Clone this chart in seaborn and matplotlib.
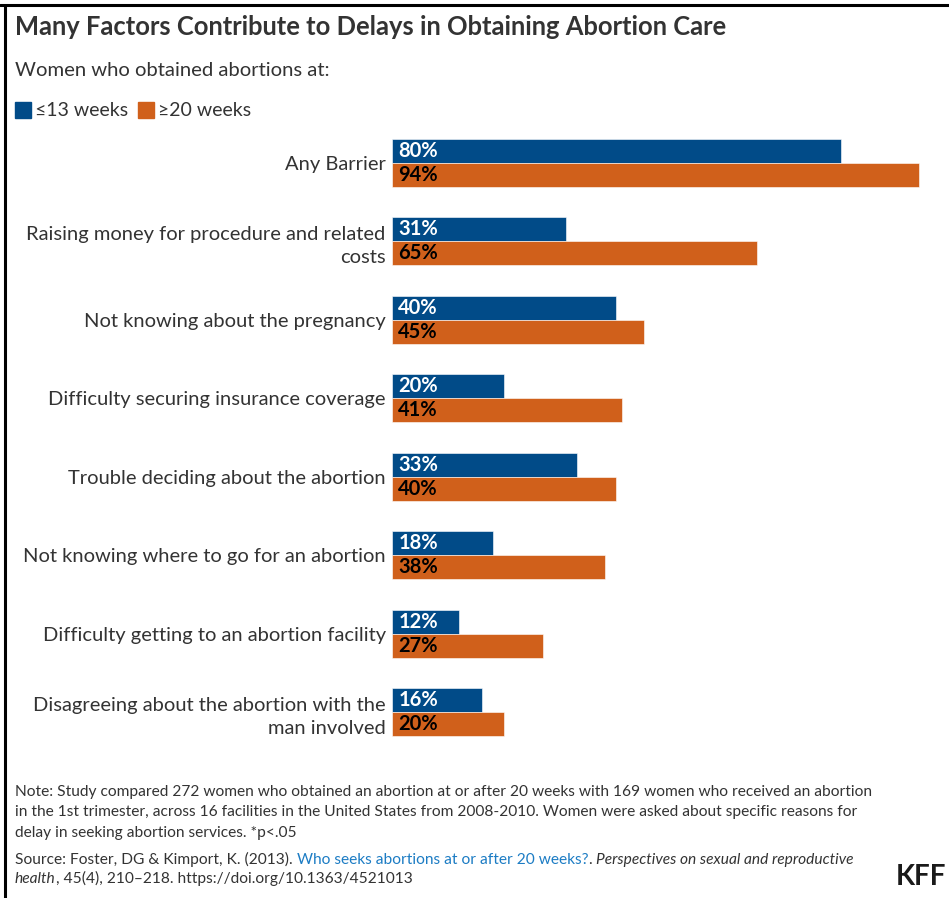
import numpy as np
import pandas as pd
import matplotlib
matplotlib.use("Agg")
import matplotlib.pyplot as plt
from matplotlib.lines import Line2D
from matplotlib.patches import Rectangle
import seaborn as sns

# data
factors = [
    "Any Barrier",
    "Raising money for procedure and related\ncosts",
    "Not knowing about the pregnancy",
    "Difficulty securing insurance coverage",
    "Trouble deciding about the abortion",
    "Not knowing where to go for an abortion",
    "Difficulty getting to an abortion facility",
    "Disagreeing about the abortion with the\nman involved",
]
early_pct = [80, 31, 40, 20, 33, 18, 12, 16]   # <=13 weeks
late_pct = [94, 65, 45, 41, 40, 38, 27, 20]    # >=20 weeks
groups = ["≤13 weeks", "≥20 weeks"]

BLUE = "#014b88"
ORANGE = "#d0601b"
TEXT = "#333333"
FS_NOTE = 11.2

df = pd.DataFrame({
    "factor": factors * 2,
    "pct": early_pct + late_pct,
    "group": [groups[0]] * len(factors) + [groups[1]] * len(factors),
})

sns.set_theme(style="white")
plt.rcParams["font.family"] = ["Lato", "DejaVu Sans"]

W, H = 949, 898
fig = plt.figure(figsize=(W / 100, H / 100), dpi=100)

def fx(px):
    return px / W

def fy(py):
    return 1 - py / H

ax = fig.add_axes([fx(392), fy(745), 1 - fx(392), fy(130) - fy(745)])
sns.barplot(data=df, y="factor", x="pct", hue="group", orient="h",
            palette=[BLUE, ORANGE], saturation=1, width=0.612,
            edgecolor="white", linewidth=0.4, legend=False, ax=ax)

ax.set_xlim(0, 99.3)
ax.set_ylim(7.42, -0.42)
ax.set_xlabel("")
ax.set_ylabel("")
ax.set_xticks([])
ax.tick_params(axis="y", length=0, pad=4.5, labelsize=14.5, labelcolor=TEXT)
for lbl in ax.get_yticklabels():
    lbl.set_linespacing(1.45)
for s in ax.spines.values():
    s.set_visible(False)

# value labels at the start of each bar
for cont, col in zip(ax.containers, ["white", "black"]):
    for patch in cont:
        val = patch.get_width()
        ax.annotate(f"{val:.0f}%", xy=(patch.get_x(), patch.get_y() + patch.get_height() / 2),
                    xytext=(4.5, 0), textcoords="offset points", va="center", ha="left",
                    fontsize=14.5, fontweight="bold", color=col)

# title, subtitle, legend
fig.text(fx(15), fy(27), "Many Factors Contribute to Delays in Obtaining Abortion Care",
         fontsize=18.4, fontweight="bold", color=TEXT, va="center")
fig.text(fx(15), fy(70), "Women who obtained abortions at:", fontsize=14.6, color=TEXT, va="center")
for x0, label, col in [(15, groups[0], BLUE), (138, groups[1], ORANGE)]:
    fig.patches.append(Rectangle((fx(x0), fy(118)), fx(16), fy(102) - fy(118),
                                 transform=fig.transFigure, color=col))
    fig.text(fx(x0 + 20), fy(110), label, fontsize=14, color=TEXT, va="center")

# notes
note = ("Note: Study compared 272 women who obtained an abortion at or after 20 weeks with 169 women who received an abortion\n"
        "in the 1st trimester, across 16 facilities in the United States from 2008-2010. Women were asked about specific reasons for\n"
        "delay in seeking abortion services. *p<.05")
fig.text(fx(15), fy(785), note, fontsize=FS_NOTE, color=TEXT, va="top", linespacing=1.58)

src1 = fig.text(fx(15), fy(859), "Source: Foster, DG & Kimport, K. (2013).", fontsize=FS_NOTE,
                color=TEXT, va="center")
a2 = ax.annotate("Who seeks abortions at or after 20 weeks?", xy=(1, 0), xycoords=src1,
                 xytext=(3, 0), textcoords="offset points", va="bottom", ha="left",
                 fontsize=FS_NOTE, color="#1c7cc4", annotation_clip=False)
a3 = ax.annotate(".", xy=(1, 0), xycoords=a2, va="bottom", ha="left",
                 fontsize=FS_NOTE, color=TEXT, annotation_clip=False)
ax.annotate("Perspectives on sexual and reproductive", xy=(1, 0), xycoords=a3,
            xytext=(3, 0), textcoords="offset points", va="bottom", ha="left",
            fontsize=FS_NOTE, color=TEXT, style="italic", annotation_clip=False)
s4 = fig.text(fx(15), fy(879), "health", fontsize=FS_NOTE, color=TEXT, style="italic", va="center")
ax.annotate(", 45(4), 210–218. https://doi.org/10.1363/4521013", xy=(1, 0), xycoords=s4,
            va="bottom", ha="left", fontsize=FS_NOTE, color=TEXT, annotation_clip=False)

fig.text(fx(896), fy(877), "KFF", fontsize=20, fontweight="bold", color="#1a1a1a", va="center")

# frame lines
fig.add_artist(Line2D([0, 1], [fy(4.5), fy(4.5)], transform=fig.transFigure, color="black", lw=2.2))
fig.add_artist(Line2D([fx(4.5), fx(4.5)], [0, fy(4.5)], transform=fig.transFigure, color="black", lw=2.2))

fig.savefig("out.png", dpi=100)
